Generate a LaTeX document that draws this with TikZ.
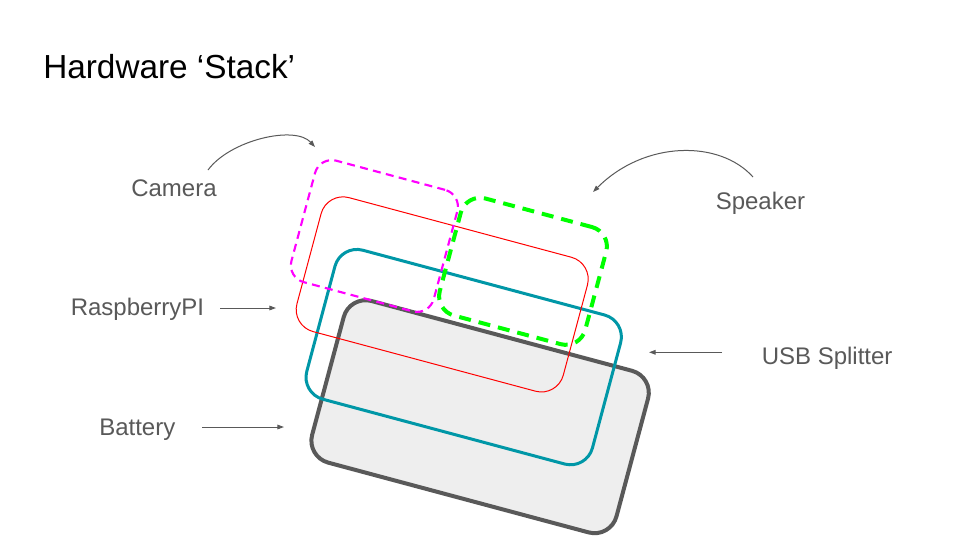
\documentclass[tikz,border=0pt]{standalone}
\usepackage{fontspec}
\setmainfont{Liberation Sans}
\usetikzlibrary{arrows.meta}
\definecolor{labgray}{HTML}{595959}
\definecolor{battfill}{HTML}{EEEEEE}
\definecolor{tealc}{HTML}{0097A7}
\definecolor{magc}{HTML}{FF00FF}
\definecolor{grnc}{HTML}{00FF00}
\definecolor{redc}{HTML}{FF0000}
\tikzset{
  layer/.style={rectangle, inner sep=0pt, rotate=-15},
  lbl/.style={anchor=base west, text=labgray, inner sep=0pt, font=\fontsize{18}{21}\selectfont},
  ttl/.style={anchor=base west, text=black, inner sep=0pt, font=\fontsize{25}{29}\selectfont},
  pointer/.style={draw=labgray, line width=0.75pt, -{Triangle[length=5pt,width=3.5pt]}}
}
\begin{document}
\begin{tikzpicture}[x=0.75pt, y=-0.75pt]
\useasboundingbox (0,0) rectangle (960,540);
\fill[white] (0,0) rectangle (960,540);

% title
\node[ttl] (title) at (43,78.5) {Hardware ‘Stack’};

% stacked boards
\node[layer, draw=labgray, fill=battfill, line width=3pt, rounded corners=17pt,
      minimum width=236.3pt, minimum height=125.5pt] (batt) at (480.1,416.7) {};
\node[layer, draw=tealc, line width=2.25pt, rounded corners=17pt,
      minimum width=221.8pt, minimum height=115.7pt] (usb) at (463.7,357.1) {};
\node[layer, draw=redc, line width=0.75pt, rounded corners=17pt,
      minimum width=206.8pt, minimum height=104pt] (rpi) at (442.2,294.4) {};
\node[layer, draw=magc, line width=1.6pt, dash pattern=on 6pt off 4pt, rounded corners=13pt,
      minimum width=110.5pt, minimum height=94.3pt] (cam) at (374.4,236) {};
\node[layer, draw=grnc, line width=3pt, dash pattern=on 9pt off 6pt, rounded corners=15pt,
      minimum width=112.9pt, minimum height=90.9pt] (spk) at (523,271.3) {};

% labels
\node[lbl] (lcam) at (131,196) {Camera};
\node[lbl] (lspk) at (715.5,209) {Speaker};
\node[lbl] (lrpi) at (70.5,315) {RaspberryPI};
\node[lbl] (lusb) at (761.5,364.5) {USB Splitter};
\node[lbl] (lbat) at (99,435) {Battery};

% connector end points
\coordinate (camS) at (208,170);
\coordinate (camE) at (315,147);
\coordinate (spkS) at (753,177);
\coordinate (spkE) at (593,192);
\coordinate (rpiS) at (220,308);
\coordinate (rpiE) at (276,308);
\coordinate (usbS) at (722,352.3);
\coordinate (usbE) at (649,352.3);
\coordinate (batS) at (202,427);
\coordinate (batE) at (284,427);

% connectors
\draw[pointer] (camS) .. controls (230,140) and (295,125) .. (camE);
\draw[pointer] (spkS) .. controls (720,140) and (645,140) .. (spkE);
\draw[pointer] (rpiS) -- (rpiE);
\draw[pointer] (usbS) -- (usbE);
\draw[pointer] (batS) -- (batE);
\end{tikzpicture}
\end{document}
